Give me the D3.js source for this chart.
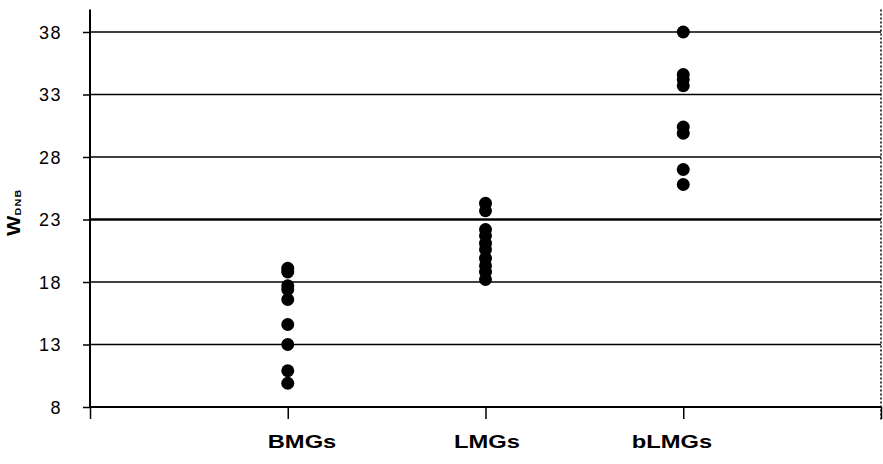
<!DOCTYPE html>
<html>
<head>
<meta charset="utf-8">
<script src="https://cdn.jsdelivr.net/npm/d3@7/dist/d3.min.js"></script>
<style>
  html, body { margin: 0; padding: 0; background: #fff; }
  svg { display: block; }
  text { font-family: "Liberation Sans", Arial, sans-serif; fill: #000; }
</style>
</head>
<body>
<svg id="chart" width="883" height="464"></svg>
<script>
// ---- data ----
const categories = ["BMGs", "LMGs", "bLMGs"];
const bmgValues  = [19.1, 18.8, 17.7, 17.4, 16.6, 14.6, 13.0, 10.9, 9.9];
const lmgValues  = [24.3, 23.7, 22.2, 21.7, 21.1, 20.6, 19.9, 19.3, 18.8, 18.2];
const blmgValues = [38.0, 34.6, 34.2, 33.7, 30.4, 29.9, 27.0, 25.8];
const yTickValues = [8, 13, 18, 23, 28, 33, 38];
const yLabelMain = "W";
const yLabelSub = "DNB";

const seriesValues = [bmgValues, lmgValues, blmgValues];
const points = [];
seriesValues.forEach((vals, i) => vals.forEach(v => points.push({ cat: i + 1, v })));

// ---- layout ----
const svg = d3.select("#chart");
const mLeft = 90, mRight = 881, mBottom = 407, mTop = 9.5;

const x = d3.scaleLinear().domain([0, 4]).range([mLeft, mRight]);
const y = d3.scaleLinear().domain([8, 39.8]).range([mBottom, mTop]);
const labelX = d3.scalePoint().domain(categories).range([302, 672]);

// gridlines
svg.append("g")
  .selectAll("line")
  .data(yTickValues.filter(d => d !== 8))
  .join("line")
  .attr("x1", mLeft).attr("x2", mRight)
  .attr("y1", d => y(d)).attr("y2", d => y(d))
  .attr("stroke", "#000")
  .attr("stroke-width", d => d === 23 ? 2.5 : 1.5);

// right dashed border
svg.append("line")
  .attr("x1", mRight).attr("x2", mRight)
  .attr("y1", y(39.8)).attr("y2", mBottom + 13)
  .attr("stroke", "#000").attr("stroke-width", 1.5)
  .attr("stroke-dasharray", "2,2");

// y axis
const yAxis = svg.append("g")
  .attr("transform", `translate(${mLeft},0)`)
  .call(d3.axisLeft(y).tickValues(yTickValues).tickSize(7).tickPadding(21).tickFormat(d3.format("d")));
yAxis.select(".domain").attr("stroke-width", 2).attr("d", `M0,${y(39.8)}V${mBottom}`);
yAxis.selectAll(".tick line").attr("stroke-width", 1.5);
yAxis.selectAll(".tick text")
  .attr("font-size", 18)
  .attr("font-family", "Liberation Sans, Arial, sans-serif")
  .attr("letter-spacing", "1.5px")
  .attr("dy", "0.35em");

// x axis
const xAxis = svg.append("g")
  .attr("transform", `translate(0,${mBottom})`)
  .call(d3.axisBottom(x).tickValues([0, 1, 2, 3, 4]).tickSize(12).tickFormat(""));
xAxis.select(".domain").attr("stroke-width", 2).attr("d", `M${mLeft},0H${mRight}`);
xAxis.selectAll(".tick line").attr("stroke-width", 1.5);

// x category labels
svg.append("g")
  .selectAll("text")
  .data(categories)
  .join("text")
  .attr("transform", d => `translate(${labelX(d)},448) scale(1.32,1)`)
  .attr("text-anchor", "middle")
  .attr("font-size", 18)
  .attr("font-weight", "bold")
  .text(d => d);

// y axis title
const yt = svg.append("text")
  .attr("transform", "translate(20,236) rotate(-90) scale(1.2,1)")
  .attr("font-weight", "bold");
yt.append("tspan").attr("font-size", 18).text(yLabelMain);
yt.append("tspan").attr("font-size", 9).attr("dy", 1).attr("letter-spacing", "1px").text(yLabelSub);

// points
svg.append("g")
  .selectAll("circle")
  .data(points)
  .join("circle")
  .attr("cx", d => x(d.cat))
  .attr("cy", d => y(d.v))
  .attr("r", 6.5)
  .attr("fill", "#000");
</script>
</body>
</html>
